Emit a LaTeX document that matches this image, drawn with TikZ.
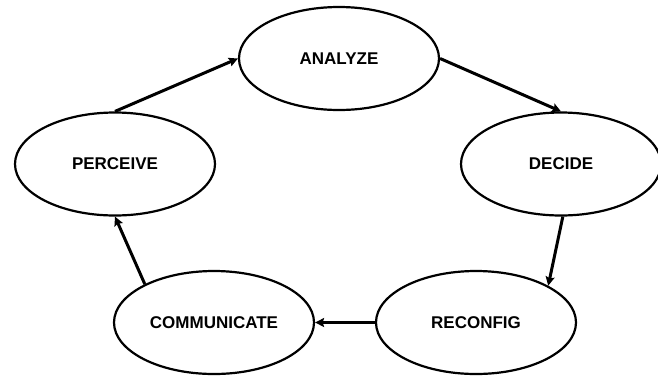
\documentclass[tikz,border=0pt]{standalone}
\usepackage{fontspec}
\setmainfont{Liberation Sans}
\usetikzlibrary{shapes.geometric,arrows.meta}
\tikzset{
	stage/.style={draw=black, line width=2.2pt, ellipse, minimum width=200pt, minimum height=103pt, inner sep=0pt, font=\fontsize{17}{20}\selectfont\bfseries},
	flow/.style={line width=3pt, -{Stealth[length=9pt, width=9pt, inset=1.5pt]}}
}

\begin{document}
\begin{tikzpicture}[x=1pt, y=-1pt]
		%%%%% START %%%%%
		\useasboundingbox (0, 0) rectangle (658, 376);
		
		\node[stage] (analyze) at (339, 58.5) {ANALYZE};
		\node[stage] (decide) at (561, 164) {DECIDE};
		\node[stage] (reconfig) at (476, 322.5) {RECONFIG};
		\node[stage] (communicate) at (214, 322.5) {COMMUNICATE};
		\node[stage] (perceive) at (115, 164) {PERCEIVE};
		
		\draw[flow] (perceive.north) -- (analyze.west);
		\draw[flow] (analyze.east) -- (decide.north);
		\draw[flow] (decide.-88) -- (reconfig.27);
		\draw[flow] (reconfig.west) -- (communicate.east);
		\draw[flow] (communicate.151) -- (perceive.south);
		%%%%% END %%%%%
	\end{tikzpicture}
\end{document}
